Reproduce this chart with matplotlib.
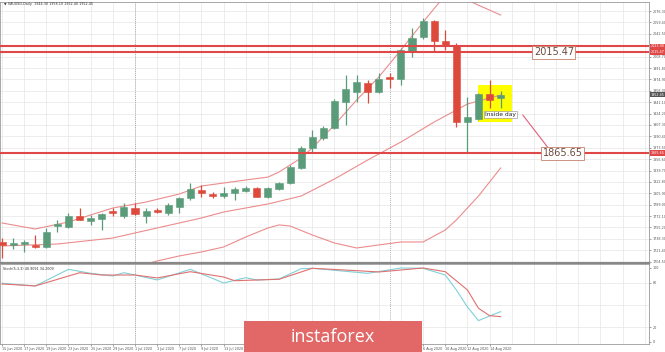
import numpy as np
import pandas as pd
import matplotlib
matplotlib.use('Agg')
import matplotlib.pyplot as plt
from matplotlib.patches import Rectangle
import matplotlib.transforms as mtrans

# daily candles XAUUSD, 15 Jun - 17 Aug 2020
dates = pd.bdate_range('2020-06-15', '2020-08-17')
opens = [1734.2, 1729.3, 1730.7, 1729.3, 1726.3, 1757.4, 1756.0, 1772.3, 1764.9, 1767.8,
         1780.4, 1772.3, 1784.1, 1772.3, 1781.0, 1776.7, 1785.6, 1798.9, 1810.8, 1804.9,
         1801.9, 1806.8, 1809.8, 1813.8, 1800.9, 1812.3, 1820.8, 1843.0, 1873.6, 1887.5,
         1902.3, 1941.8, 1955.7, 1970.0, 1955.7, 1978.4, 1975.4, 2017.4, 2037.3, 2061.9,
         2032.2, 2025.9, 1912.1, 1916.1, 1953.2, 1946.8]
highs = [1739.6, 1739.6, 1736.7, 1744.1, 1754.5, 1766.3, 1776.7, 1784.0, 1773.7, 1776.7,
         1783.4, 1791.6, 1791.6, 1784.0, 1784.0, 1791.6, 1800.4, 1821.2, 1818.2, 1807.9,
         1815.3, 1815.3, 1817.2, 1815.7, 1815.3, 1823.1, 1847.9, 1876.1, 1899.8, 1905.7,
         1945.3, 1981.4, 1981.4, 1974.0, 1984.3, 1984.3, 2021.4, 2051.0, 2065.9, 2062.9,
         2048.1, 2028.8, 1949.2, 1954.7, 1974.0, 1958.1]
lows = [1710.0, 1723.4, 1718.9, 1724.8, 1725.0, 1748.5, 1754.5, 1766.0, 1759.0, 1751.5,
        1772.3, 1769.3, 1773.7, 1761.9, 1776.0, 1773.7, 1776.7, 1796.0, 1800.4, 1798.9,
        1798.9, 1796.0, 1808.3, 1800.0, 1798.9, 1810.8, 1819.7, 1842.0, 1867.6, 1885.0,
        1901.3, 1907.2, 1941.8, 1940.3, 1954.7, 1962.1, 1966.5, 2008.5, 2034.8, 2015.9,
        2018.5, 1904.7, 1865.65, 1914.6, 1932.4, 1932.4]
closes = [1729.3, 1732.2, 1733.7, 1726.3, 1748.5, 1760.4, 1772.3, 1766.3, 1769.3, 1775.2,
          1776.7, 1785.6, 1775.2, 1780.1, 1778.2, 1788.6, 1798.9, 1812.3, 1806.4, 1801.9,
          1806.8, 1812.3, 1813.8, 1800.9, 1813.8, 1821.2, 1845.4, 1873.6, 1889.0, 1903.2,
          1943.2, 1960.2, 1970.5, 1955.7, 1975.0, 1975.4, 2018.5, 2036.7, 2061.9, 2031.8,
          2025.9, 1912.1, 1918.6, 1953.2, 1944.3, 1952.45]

# bollinger bands (sampled points)
upper_idx = [0, 3, 6, 8, 10, 13, 16, 18, 20, 22, 24, 25, 26, 27, 28, 30, 32, 34, 36, 38, 40, 41, 42, 43, 44, 45]
upper_val = [1761.9, 1753.0, 1763.4, 1773.8, 1784.1, 1793.0, 1804.9, 1816.7, 1821.2, 1825.7, 1830.0, 1837.5,
             1847.9, 1858.3, 1873.1, 1907.2, 1944.3, 1978.4, 2018.5, 2060.0, 2100.0, 2104.5, 2092.6, 2085.0,
             2077.8, 2070.4]
mid_idx = [0, 5, 10, 14, 18, 20, 24, 27, 30, 33, 36, 39, 42, 45]
mid_val = [1727.8, 1730.7, 1739.6, 1754.5, 1769.3, 1778.2, 1790.1, 1801.9, 1827.1, 1855.3, 1882.0, 1911.7,
           1938.4, 1951.7]
lower_idx = [10, 12, 13, 14, 16, 18, 20, 22, 24, 25, 26, 28, 30, 32, 34, 36, 38, 40, 41, 42, 43, 44, 45]
lower_val = [1684.8, 1695.2, 1701.0, 1705.5, 1713.0, 1718.9, 1726.3, 1741.1, 1754.5, 1759.0, 1757.4, 1744.1,
             1732.2, 1724.8, 1729.3, 1733.7, 1733.7, 1751.5, 1766.3, 1784.1, 1801.9, 1822.7, 1843.5]

# stochastic
k_idx = [0, 3, 6, 8, 10, 11, 12, 14, 17, 20, 22, 23, 25, 27, 28, 33, 36, 38, 40, 41, 42, 43, 44, 45]
k_val = [79.3, 75.7, 98.2, 92.8, 89.2, 93.6, 90.5, 83.8, 98.2, 79.7, 86.9, 83.8, 85.1, 99.0, 99.6, 92.8,
         100.0, 99.6, 90.5, 70.3, 47.3, 28.8, 35.1, 40.9]
d_idx = [0, 3, 7, 9, 12, 14, 17, 20, 21, 25, 28, 32, 34, 38, 40, 42, 43, 44, 45]
d_val = [78.4, 75.7, 93.6, 90.5, 90.5, 86.5, 95.0, 87.8, 82.8, 84.7, 99.6, 96.4, 94.6, 100.0, 95.0, 70.3,
         45.5, 35.5, 34.2]

resistance_2 = 2023.9
resistance = 2015.47
support = 1865.65

green = '#5a9c79'
red = '#dd4a3c'
band = '#ec8c8c'
grid_c = '#e6e6e6'
tick_c = '#555555'
small = 2.4

fig = plt.figure(figsize=(6.65, 3.52), dpi=100)
ax = fig.add_axes([0.0, 0.253, 0.976, 0.741])
ax2 = fig.add_axes([0.0, 0.023, 0.976, 0.227], sharex=ax)

n = len(opens)

# grid
price_ticks = 2076.30 - 16.9 * np.arange(0, 23)
for a in (ax, ax2):
    for i in range(0, 60, 2):
        a.axvline(i, color=grid_c, lw=0.5, zorder=0)
for p in price_ticks:
    ax.axhline(p, color=grid_c, lw=0.5, zorder=0)
for v in (20, 50, 80):
    ax2.axhline(v, color=grid_c, lw=0.5, zorder=0)

# month separators
for a in (ax, ax2):
    for i in (12, 35):
        a.axvline(i, color='#999999', lw=0.6, ls=(0, (1, 1.5)), zorder=1)

# inside day highlight
ax.add_patch(Rectangle((42.96, 1911.7), 3.07, 54.8, facecolor='#ffff00', edgecolor='none', zorder=1))

# bands
ax.plot(upper_idx, upper_val, color=band, lw=0.8, zorder=2)
ax.plot(mid_idx, mid_val, color=band, lw=0.8, zorder=2)
ax.plot(lower_idx, lower_val, color=band, lw=0.8, zorder=2)

# candles
for i in range(n):
    o, h, l, c = opens[i], highs[i], lows[i], closes[i]
    col = green if c >= o else red
    ax.vlines(i, l, h, color=col, lw=0.9, zorder=3)
    body = max(abs(c - o), 1.2)
    ax.add_patch(Rectangle((i - 0.32, min(o, c)), 0.64, body, facecolor=col,
                           edgecolor=col, lw=0.4, zorder=4))

# levels
for lvl in (resistance_2, resistance, support):
    ax.axhline(lvl, color='#e04848', lw=1.5, zorder=5)

ax.text(48.0, resistance, '2015.47', fontsize=7, color='#6e4a3e', va='center', ha='left', zorder=6,
        bbox=dict(boxstyle='square,pad=0.15', facecolor='white', edgecolor='#c8806e', lw=0.6))
ax.text(48.8, support, '1865.65', fontsize=7, color='#6e4a3e', va='center', ha='left', zorder=6,
        bbox=dict(boxstyle='square,pad=0.15', facecolor='white', edgecolor='#c8806e', lw=0.6))
ax.text(43.6, 1922.5, 'Inside day', fontsize=4.3, color='#222222', va='center', ha='left', zorder=6,
        bbox=dict(boxstyle='square,pad=0.15', facecolor='white', edgecolor='#888888', lw=0.4))
ax.plot([47.0, 49.3], [1922.0, 1873.1], color='#e0607a', lw=0.8, zorder=5)

ax.set_ylim(1702.6, 2089.6)
ax.set_xlim(-0.18, 58.39)
ax2.set_ylim(-2.7, 105.4)

# stochastic panel
ax2.plot(k_idx, k_val, color='#7fd0d8', lw=0.8)
ax2.plot(d_idx, d_val, color='#e07070', lw=0.8)

# axes styling
for a in (ax, ax2):
    a.yaxis.tick_right()
    a.tick_params(axis='y', labelsize=small, colors=tick_c, length=1.5, width=0.4, pad=1)
    for s in a.spines.values():
        s.set_color('#999999')
        s.set_linewidth(0.6)
ax.spines['bottom'].set_color('#888888')
ax.spines['bottom'].set_linewidth(1.6)

ax.set_yticks(price_ticks)
ax.set_yticklabels(['%.2f' % p for p in price_ticks])
ax2.set_yticks([0, 20, 80, 100])
ax2.set_yticklabels(['0', '20', '80', '100'])

date_pos = list(range(0, n, 2))
ax2.set_xticks(date_pos)
ax2.set_xticklabels([f'{dates[i].day} {dates[i]:%b %Y}' for i in date_pos])
ax2.tick_params(axis='x', labelsize=small, colors=tick_c, length=1.5, width=0.4, pad=0.8)
for lbl in ax2.get_xticklabels():
    lbl.set_ha('left')
ax.tick_params(axis='x', labelbottom=False, length=0)

# price markers on the right axis
ytr = mtrans.blended_transform_factory(ax.transAxes, ax.transData)
for val, fc in ((resistance_2, '#e04848'), (resistance, '#e04848'), (closes[-1], '#555555'), (support, '#e04848')):
    ax.text(1.003, val, '%.2f' % val, transform=ytr, fontsize=small, color='white', va='center', ha='left',
            zorder=7, clip_on=False,
            bbox=dict(boxstyle='square,pad=0.2', facecolor=fc, edgecolor='none'))

# titles
fig.text(0.006, 0.988, '\u25bc XAUUSD,Daily  1944.30 1958.10 1932.40 1952.45', fontsize=small,
         color='#333333', va='center')
ax2.text(0.004, 0.94, 'Stoch(5,3,3) 40.9091 34.2009', transform=ax2.transAxes, fontsize=small,
         color='#333333', va='center')

# watermark banner
fig.add_artist(Rectangle((0.367, 0.0), 0.268, 0.088, transform=fig.transFigure,
                         facecolor='#e26868', edgecolor='none', zorder=10))
fig.text(0.501, 0.044, 'instaforex', fontsize=13, color='white', ha='center', va='center',
         family='Open Sans', zorder=11)

plt.savefig('out.png', dpi=100)
